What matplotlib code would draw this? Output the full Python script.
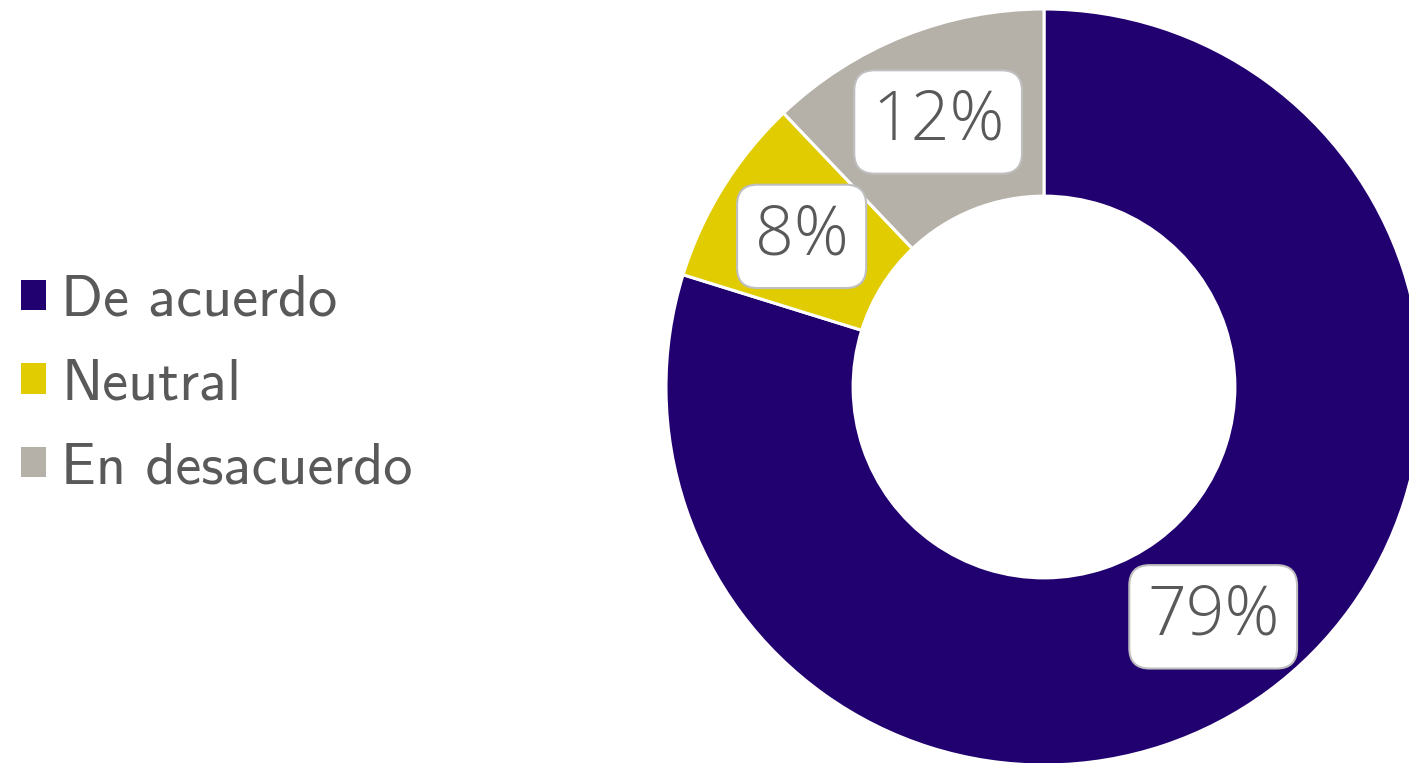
import matplotlib
matplotlib.use("Agg")
import matplotlib.pyplot as plt
from matplotlib.patches import Patch
import numpy as np

categories = ["De acuerdo", "Neutral", "En desacuerdo"]
values = [79.8, 8.1, 12.1]
pct_labels = ["79%", "8%", "12%"]
colors = ["#210070", "#E0CC00", "#B5B0A8"]

W, H = 1409, 763
fig = plt.figure(figsize=(W / 100, H / 100), dpi=100)
fig.patch.set_facecolor("white")

cx, cy, R = 1044, 763 - 387, 378
ax = fig.add_axes([(cx - R) / W, (cy - R) / H, 2 * R / W, 2 * R / H])
wedges, _ = ax.pie(values, colors=colors, startangle=90, counterclock=False,
                   radius=1.0, wedgeprops=dict(width=0.495, edgecolor="white", linewidth=2.2))
ax.set_xlim(-1, 1)
ax.set_ylim(-1, 1)
ax.set_aspect("equal")
ax.axis("off")

for w, lab in zip(wedges, pct_labels):
    ang = np.deg2rad((w.theta1 + w.theta2) / 2)
    r = 0.755
    ax.text(r * np.cos(ang), r * np.sin(ang), lab, ha="center", va="center",
            fontsize=49, color="#595959", family="Open Sans", weight="light",
            bbox=dict(boxstyle="round,pad=0.26,rounding_size=0.3", fc="white",
                      ec="#BFBFBF", lw=1.5))

handles = [Patch(facecolor=c, edgecolor="none") for c in colors]
leg = fig.legend(handles, categories, loc="center left", bbox_to_anchor=(3 / W, 0.5 - 3 / H),
                 frameon=False, handlelength=0.43, handleheight=0.43,
                 handletextpad=0.27, labelspacing=0.54, borderaxespad=0.0, borderpad=0.3,
                 prop=dict(family="cmss10", size=42))
for t in leg.get_texts():
    t.set_color("#595959")

fig.savefig("out.png", dpi=100)
